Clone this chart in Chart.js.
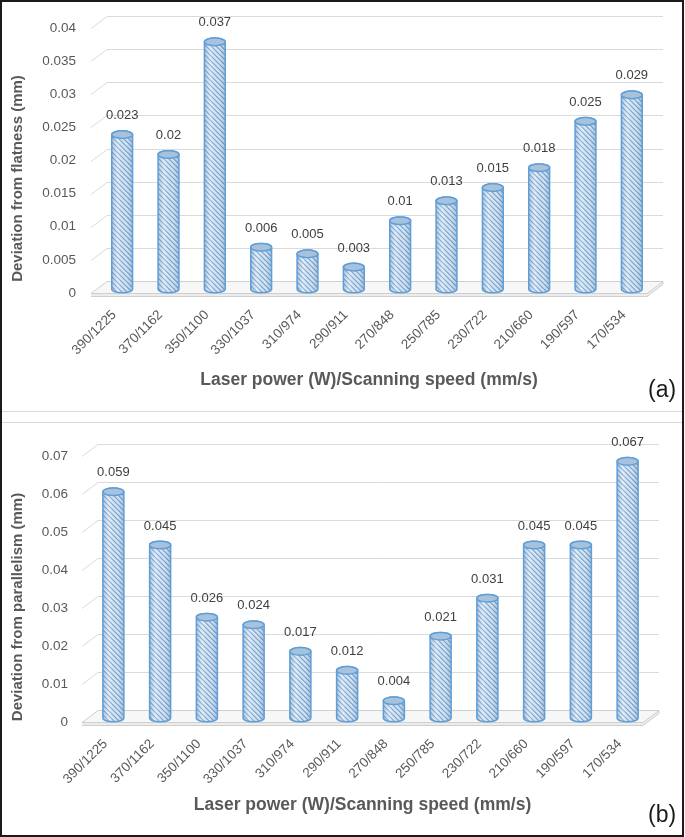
<!DOCTYPE html>
<html>
<head>
<meta charset="utf-8">
<script src="https://cdn.jsdelivr.net/npm/chart.js@4.4.1/dist/chart.umd.min.js"></script>
<style>
  body { margin: 0; background: #fff; width: 685px; height: 837px; position: relative; overflow: hidden; font-family: "Liberation Sans", Arial, sans-serif; }
  canvas { position: absolute; left: 0; }
  #chartA { top: 0; }
  #chartB { top: 422px; }
  .frame { position: absolute; left: 0; top: 0; width: 684px; height: 837px; box-sizing: border-box; border: 2px solid #1b1b1b; pointer-events: none; }
  .sep { position: absolute; left: 2px; width: 680px; height: 1px; background: #d9d9d9; }
  .tag { position: absolute; font-size: 23px; color: #1b1b1b; }
</style>
</head>
<body>
<canvas id="chartA" width="685" height="410"></canvas>
<canvas id="chartB" width="685" height="413"></canvas>
<div class="sep" style="top:411px"></div>
<div class="sep" style="top:422px"></div>
<div class="frame"></div>
<div class="tag" style="left:648px;top:376px">(a)</div>
<div class="tag" style="left:648px;top:801px">(b)</div>

<script>
const categories = ['390/1225', '370/1162', '350/1100', '330/1037', '310/974', '290/911',
                    '270/848', '250/785', '230/722', '210/660', '190/597', '170/534'];
const flatness = [0.023, 0.02, 0.037, 0.006, 0.005, 0.003, 0.01, 0.013, 0.015, 0.018, 0.025, 0.029];
const parallelism = [0.059, 0.045, 0.026, 0.024, 0.017, 0.012, 0.004, 0.021, 0.031, 0.045, 0.045, 0.067];
const flatTicks = ['0', '0.005', '0.01', '0.015', '0.02', '0.025', '0.03', '0.035', '0.04'];
const paraTicks = ['0', '0.01', '0.02', '0.03', '0.04', '0.05', '0.06', '0.07'];

Chart.defaults.font.family = '"Liberation Sans", Arial, sans-serif';
Chart.defaults.color = '#595959';

// hatch for the cylinders
function makeHatch() {
    let c = document.createElement('canvas');
    c.width = 5; c.height = 5;
    let g = c.getContext('2d');
    g.fillStyle = '#dcebf8';
    g.fillRect(0, 0, 5, 5);
    g.strokeStyle = '#73a0cd';
    g.lineWidth = 1.1;
    g.beginPath();
    g.moveTo(-1, -1); g.lineTo(6, 6);
    g.moveTo(-1, 4); g.lineTo(1, 6);
    g.moveTo(4, -1); g.lineTo(6, 1);
    g.stroke();
    return g.createPattern(c, 'repeat');
}
const hatch = makeHatch();

// depth offsets of the fake 3d box
const DX = 16, DY = 12;

const box3d = {
    id: 'box3d',
    beforeDatasetsDraw(chart) {
        let ctx = chart.ctx;
        let a = chart.chartArea;
        let y = chart.scales.y;
        ctx.save();
        ctx.strokeStyle = '#dadada';
        ctx.lineWidth = 1;
        y.ticks.forEach(t => {
            if (t.value === 0) return;
            let py = Math.round(y.getPixelForValue(t.value)) + 0.5;
            ctx.beginPath();
            ctx.moveTo(a.left, py);
            ctx.lineTo(a.left + DX, py - DY);
            ctx.lineTo(a.right + DX, py - DY);
            ctx.stroke();
        });
        // floor
        let b = Math.round(y.getPixelForValue(0)) + 0.5;
        ctx.fillStyle = '#ececec';
        ctx.beginPath();
        ctx.moveTo(a.left, b); ctx.lineTo(a.right, b); ctx.lineTo(a.right + DX, b - DY);
        ctx.lineTo(a.right + DX, b - DY + 3); ctx.lineTo(a.right, b + 3); ctx.lineTo(a.left, b + 3);
        ctx.closePath();
        ctx.fill();
        ctx.fillStyle = '#f7f7f7';
        ctx.strokeStyle = '#cfcfcf';
        ctx.beginPath();
        ctx.moveTo(a.left, b); ctx.lineTo(a.right, b);
        ctx.lineTo(a.right + DX, b - DY); ctx.lineTo(a.left + DX, b - DY);
        ctx.closePath();
        ctx.fill();
        ctx.stroke();
        ctx.beginPath();
        ctx.moveTo(a.left, b + 3); ctx.lineTo(a.right, b + 3); ctx.lineTo(a.right + DX, b - DY + 3);
        ctx.moveTo(a.right + DX, b - DY); ctx.lineTo(a.right + DX, b - DY + 3);
        ctx.stroke();
        ctx.restore();
    },
    afterDatasetsDraw(chart) {
        let ctx = chart.ctx;
        let meta = chart.getDatasetMeta(0);
        let vals = chart.data.datasets[0].data;
        ctx.save();
        meta.data.forEach((el, i) => {
            let cx = el.x + DX / 2;
            let rx = el.width / 2;
            let ry = 3.8;
            let yt = el.y - DY / 2;
            let yb = el.base - DY / 2 + 2;
            // body
            ctx.beginPath();
            ctx.moveTo(cx - rx, yt);
            ctx.lineTo(cx - rx, yb);
            ctx.ellipse(cx, yb, rx, ry, 0, Math.PI, 0, true);
            ctx.lineTo(cx + rx, yt);
            ctx.ellipse(cx, yt, rx, ry, 0, 0, Math.PI, true);
            ctx.closePath();
            ctx.fillStyle = hatch;
            ctx.fill();
            let gr = ctx.createLinearGradient(cx - rx, 0, cx + rx, 0);
            gr.addColorStop(0, 'rgba(60,100,150,0.3)');
            gr.addColorStop(0.3, 'rgba(255,255,255,0.2)');
            gr.addColorStop(0.7, 'rgba(60,100,150,0.05)');
            gr.addColorStop(1, 'rgba(60,100,150,0.3)');
            ctx.fillStyle = gr;
            ctx.fill();
            ctx.strokeStyle = '#5f9fd8';
            ctx.lineWidth = 1.5;
            ctx.stroke();
            // top cap
            ctx.beginPath();
            ctx.ellipse(cx, yt, rx, ry, 0, 0, Math.PI * 2);
            ctx.fillStyle = '#a9c2dc';
            ctx.fill();
            ctx.stroke();
            // value label
            ctx.fillStyle = '#404040';
            ctx.font = '13px "Liberation Sans", Arial, sans-serif';
            ctx.textAlign = 'center';
            ctx.textBaseline = 'middle';
            ctx.fillText(String(vals[i]), cx, yt - 19);
        });
        ctx.restore();
    },
    afterDraw(chart, args, opts) {
        // y title, centred a bit lower than the plot like the original
        let ctx = chart.ctx;
        let a = chart.chartArea;
        ctx.save();
        ctx.translate(18, (a.top + a.bottom) / 2 + opts.shift);
        ctx.rotate(-Math.PI / 2);
        ctx.fillStyle = '#595959';
        ctx.font = 'bold 15px "Liberation Sans", Arial, sans-serif';
        ctx.textAlign = 'center';
        ctx.textBaseline = 'middle';
        ctx.fillText(opts.title, 0, 0);
        ctx.restore();
    }
};

function makeChart(id, values, tickLabels, max, step, yTitle, g) {
    let ctx = document.getElementById(id).getContext('2d');
    return new Chart(ctx, {
        type: 'bar',
        data: {
            labels: categories,
            datasets: [{
                data: values,
                backgroundColor: 'rgba(0,0,0,0)',
                borderWidth: 0,
                barPercentage: 0.45,
                categoryPercentage: 1
            }]
        },
        options: {
            responsive: false,
            animation: false,
            layout: { padding: { top: g.top, right: g.right, left: 0, bottom: 0 } },
            plugins: {
                legend: { display: false },
                tooltip: { enabled: false },
                box3d: { title: yTitle, shift: 18 }
            },
            scales: {
                x: {
                    grid: { display: false, drawTicks: false },
                    border: { display: false },
                    ticks: {
                        autoSkip: false, maxRotation: 45, minRotation: 45,
                        padding: g.xpad, color: '#595959',
                        font: { size: 13.5 }
                    },
                    title: {
                        display: true, text: 'Laser power (W)/Scanning speed (mm/s)',
                        color: '#595959', font: { size: 17.5, weight: 'bold' },
                        padding: { top: 0, bottom: g.xtitle }
                    },
                    afterFit: s => { s.height = g.xh; }
                },
                y: {
                    min: 0, max: max,
                    grid: { display: false, drawTicks: false },
                    border: { display: false },
                    ticks: {
                        stepSize: step, padding: g.ypad, color: '#595959',
                        font: { size: 13.5 },
                        callback: (v, i) => tickLabels[i]
                    },
                    afterFit: s => { s.width = g.yw; }
                }
            }
        },
        plugins: [box3d]
    });
}

makeChart('chartA', flatness, flatTicks, 0.04, 0.005, 'Deviation from flatness (mm)',
    { top: 28, right: 38, yw: 91, xh: 117, xpad: 14, xtitle: 19, ypad: 15 });
makeChart('chartB', parallelism, paraTicks, 0.07, 0.01, 'Deviation from parallelism (mm)',
    { top: 34, right: 42, yw: 82, xh: 113, xpad: 14, xtitle: 19, ypad: 14 });
</script>
</body>
</html>
